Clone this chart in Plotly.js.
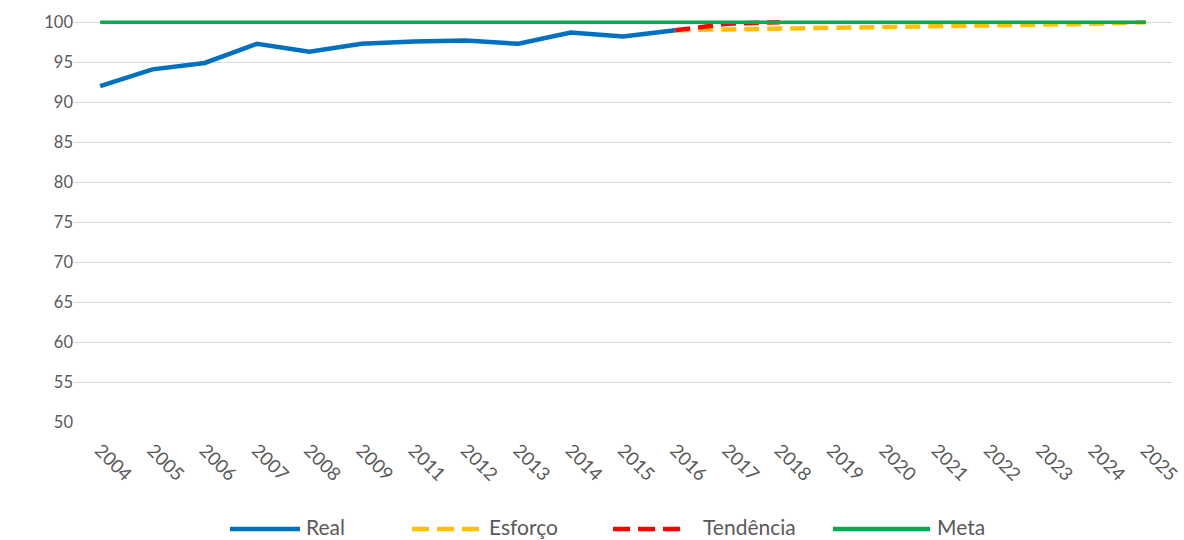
<!DOCTYPE html>
<html>
<head>
<meta charset="utf-8">
<script src="https://cdn.plot.ly/plotly-3.0.1.min.js"></script>
<style>html,body{margin:0;padding:0;background:#fff;}#chart{width:1184px;height:540px;}</style>
</head>
<body>
<div id="chart"></div>
<script>
var years = ["2004","2005","2006","2007","2008","2009","2011","2012","2013","2014","2015","2016","2017","2018","2019","2020","2021","2022","2023","2024","2025"];
var realYears = ["2004","2005","2006","2007","2008","2009","2011","2012","2013","2014","2015","2016"];
var realValues = [92.0, 94.1, 94.9, 97.3, 96.3, 97.3, 97.6, 97.7, 97.3, 98.7, 98.2, 99.0];
var esforcoYears = ["2016","2017","2018","2019","2020","2021","2022","2023","2024","2025"];
var esforcoValues = [99.0, 99.1, 99.15, 99.25, 99.35, 99.45, 99.55, 99.7, 99.8, 100.0];
var tendenciaYears = ["2016","2017","2018"];
var tendenciaValues = [99.0, 99.8, 100];
var metaValues = [100,100,100,100,100,100,100,100,100,100,100,100,100,100,100,100,100,100,100,100,100];
var yTicks = [50,55,60,65,70,75,80,85,90,95,100];
var seriesNames = ["Real", "Esforço", "Tendência", "Meta"];
var seriesColors = ["#0070C0", "#FFC000", "#FF0000", "#00B050"];
var seriesDash = ["solid", "15px,8px", "15px,8px", "solid"];

var yTickFont = {family: "Lato, 'Open Sans', sans-serif", size: 16.5, color: "#595959"};
var xTickFont = {family: "Lato, 'Open Sans', sans-serif", size: 18.5, color: "#595959"};
var legendFont = {family: "Lato, 'Open Sans', sans-serif", size: 21, color: "#595959"};

var traces = [
  {x: realYears, y: realValues, name: seriesNames[0], mode: "lines", line: {color: seriesColors[0], width: 4.5, dash: seriesDash[0]}},
  {x: esforcoYears, y: esforcoValues, name: seriesNames[1], mode: "lines", line: {color: seriesColors[1], width: 4.5, dash: seriesDash[1]}},
  {x: tendenciaYears, y: tendenciaValues, name: seriesNames[2], mode: "lines", line: {color: seriesColors[2], width: 4.5, dash: seriesDash[2]}},
  {x: years, y: metaValues, name: seriesNames[3], mode: "lines", line: {color: seriesColors[3], width: 3.5, dash: seriesDash[3]}}
];

// custom legend (pixel layout converted to paper coordinates)
var PL = 74, PW = 1098, PB = 422, PH = 403;
function px(x) { return (x - PL) / PW; }
function py(y) { return (PB - y) / PH; }
var legendLineY = 529;
var legendTextY = 526.5;
var sampleStart = [230, 412, 613, 833];
var sampleEnd = [300, 480, 680, 930];
var textStart = [304, 487, 701, 935];
var shapes = [], annotations = [];
for (var i = 0; i < seriesNames.length; i++) {
  shapes.push({type: "line", xref: "paper", yref: "paper",
    x0: px(sampleStart[i]), x1: px(sampleEnd[i]), y0: py(legendLineY), y1: py(legendLineY),
    line: {color: seriesColors[i], width: 4.5, dash: i === 1 || i === 2 ? "17px,8px" : "solid"}});
  annotations.push({xref: "paper", yref: "paper", x: px(textStart[i]), y: py(legendTextY),
    xanchor: "left", yanchor: "middle", showarrow: false, text: seriesNames[i], font: legendFont,
    align: "left"});
}

var layout = {
  width: 1184, height: 540,
  margin: {l: PL, r: 1184 - PL - PW, t: 19, b: 540 - PB},
  paper_bgcolor: "#fff", plot_bgcolor: "#fff",
  font: yTickFont,
  showlegend: false,
  shapes: shapes,
  annotations: annotations,
  xaxis: {type: "category", categoryorder: "array", categoryarray: years, range: [-0.5, 20.5], autorange: false,
    tickangle: 45, showgrid: false, zeroline: false, showline: false, ticks: "", tickfont: xTickFont,
    automargin: false, ticklabelstandoff: 13},
  yaxis: {range: [50, 100.4], autorange: false, tickvals: yTicks, showgrid: true, gridcolor: "#D9D9D9", gridwidth: 1,
    zeroline: false, showline: false, ticks: "", tickfont: yTickFont, automargin: false, ticklabelstandoff: 0}
};

Plotly.newPlot("chart", traces, layout, {displayModeBar: false, staticPlot: true});
</script>
</body>
</html>
